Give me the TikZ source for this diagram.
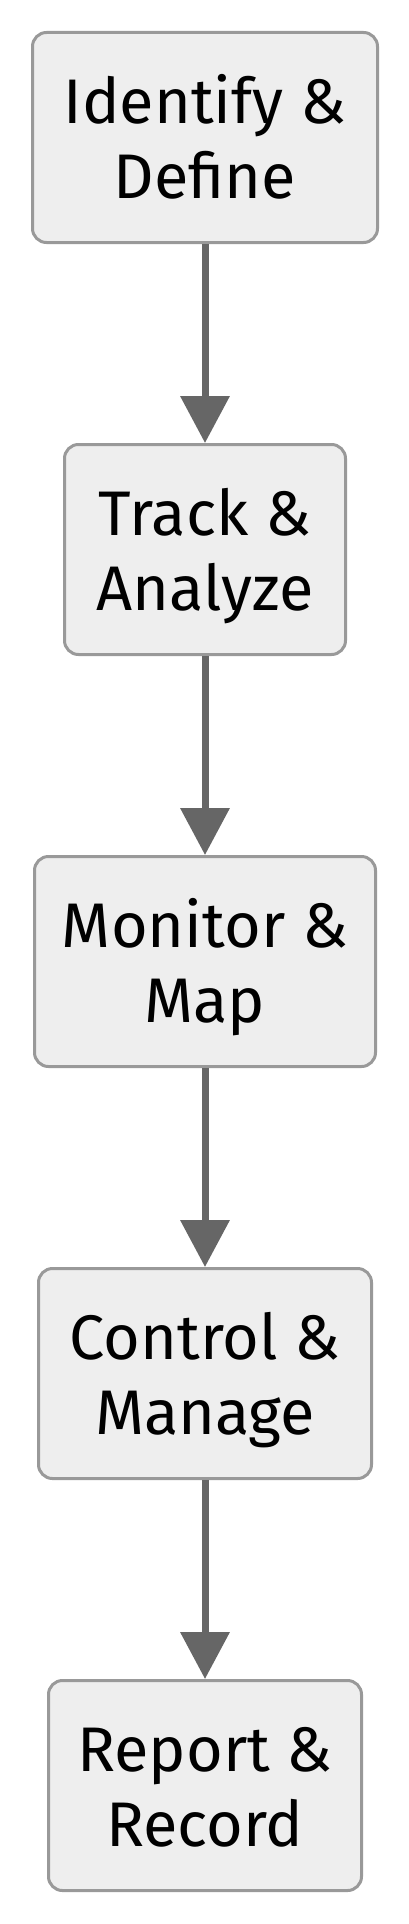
\documentclass[tikz,border=0pt]{standalone}
\usepackage{fontspec}
\setmainfont{Fira Sans}
\usepackage{tikz}
\usetikzlibrary{arrows.meta,positioning}
\definecolor{boxfill}{HTML}{EEEEEE}
\definecolor{boxline}{HTML}{999999}
\definecolor{arrgray}{HTML}{666666}

\begin{document}
\begin{tikzpicture}[
    stepbox/.style={rectangle, draw=boxline, fill=boxfill, rounded corners=14pt,
        line width=3pt, minimum height=210pt, align=center, inner xsep=0pt,
        text height=121pt, text depth=0pt,
        font=\fontsize{63}{75}\selectfont},
    arr/.style={-{Triangle[width=48pt, length=47pt]}, line width=7pt, draw=arrgray},
    node distance=199pt
]
\useasboundingbox (0,0) rectangle (408pt,-1924pt);

\node[stepbox, minimum width=345pt] (identify) at (205pt,-137.5pt) {Identify \&\\Define};
\node[stepbox, minimum width=281pt, below=of identify] (track) {Track \&\\Analyze};
\node[stepbox, minimum width=341pt, below=of track] (monitor) {Monitor \&\\Map};
\node[stepbox, minimum width=333pt, below=of monitor] (control) {Control \&\\Manage};
\node[stepbox, minimum width=313pt, below=of control] (report) {Report \&\\Record};

\draw[arr] (identify) -- (track);
\draw[arr] (track) -- (monitor);
\draw[arr] (monitor) -- (control);
\draw[arr] (control) -- (report);
\end{tikzpicture}
\end{document}
